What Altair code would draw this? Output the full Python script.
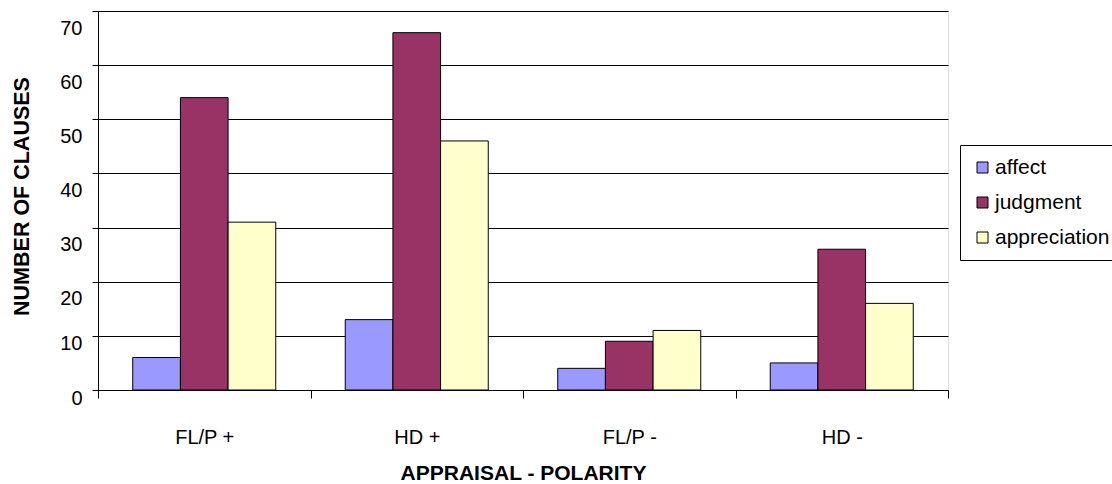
import altair as alt
import pandas as pd

categories = ["FL/P +", "HD +", "FL/P -", "HD -"]
series = ["affect", "judgment", "appreciation"]
affect = [6, 13, 4, 5]
judgment = [54, 66, 9, 26]
appreciation = [31, 46, 11, 16]
colors = ["#9999FF", "#993366", "#FFFFCC"]
y_ticks = [0, 10, 20, 30, 40, 50, 60, 70]

rows = []
for i, c in enumerate(categories):
    for s, vals in zip(series, [affect, judgment, appreciation]):
        rows.append({"category": c, "series": s, "value": vals[i]})
df = pd.DataFrame(rows)

font = "Liberation Sans"

chart = alt.Chart(df).mark_bar(stroke="black", strokeWidth=1).encode(
    x=alt.X(
        "category:N",
        sort=categories,
        scale=alt.Scale(paddingInner=0, paddingOuter=0),
        axis=alt.Axis(
            title="APPRAISAL - POLARITY",
            labelAngle=0,
            labelFont=font,
            labelFontSize=20,
            labelColor="black",
            labelPadding=29,
            tickBand="extent",
            tickSize=8,
            tickColor="black",
            domainColor="black",
            titleFont=font,
            titleFontSize=21,
            titleFontWeight="bold",
            titleColor="black",
            titleBaseline="middle",
            titleY=83,
            grid=False,
        ),
    ),
    xOffset=alt.XOffset(
        "series:N",
        sort=series,
        scale=alt.Scale(paddingInner=0, paddingOuter=0.729),
    ),
    y=alt.Y(
        "value:Q",
        scale=alt.Scale(domain=[0, 70], nice=False),
        axis=alt.Axis(
            title="NUMBER OF CLAUSES",
            values=y_ticks,
            labelFont=font,
            labelFontSize=20,
            labelColor="black",
            labelPadding=10,
            labelOffset={"condition": {"test": "datum.value <= 10", "value": 8}, "value": 17},
            tickSize=6,
            tickColor="black",
            domainColor="black",
            gridColor="black",
            gridWidth=1,
            titleFont=font,
            titleFontSize=21.5,
            titleFontWeight="bold",
            titleColor="black",
            titleAngle=270,
            titleBaseline="middle",
            titleAlign="center",
            titleX=-76,
            titleY=185,
        ),
    ),
    color=alt.Color(
        "series:N",
        sort=series,
        scale=alt.Scale(domain=series, range=colors),
        legend=alt.Legend(
            title=None,
            orient="none",
            legendX=862,
            legendY=134,
            padding=12,
            strokeColor="black",
            fillColor="white",
            symbolType="square",
            symbolSize=121,
            symbolStrokeColor="black",
            symbolStrokeWidth=1,
            labelFont=font,
            labelFontSize=21,
            labelColor="black",
            rowPadding=13,
            labelOffset=2,
        ),
    ),
).properties(
    width=850,
    height=379,
    padding={"left": 98, "top": 11, "right": 164, "bottom": 94},
    autosize=alt.AutoSizeParams(type="none"),
).configure_view(
    stroke="#808080",
    strokeWidth=1,
).configure(background="white")

chart.save("out.html", embed_options={"renderer": "svg", "actions": False})
